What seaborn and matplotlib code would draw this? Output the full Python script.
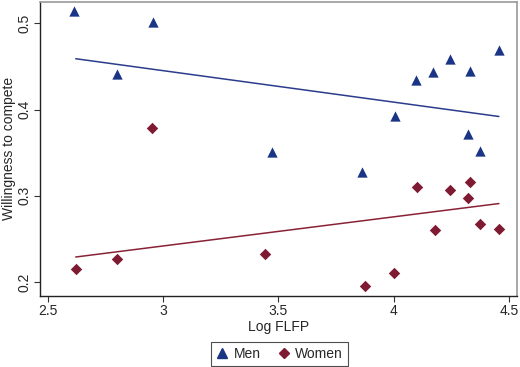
import numpy as np
import pandas as pd
import seaborn as sns
import matplotlib.pyplot as plt

# points
men_x = [2.614, 2.955, 2.797, 3.470, 3.864, 4.004, 4.097, 4.171, 4.246, 4.332, 4.322, 4.375, 4.457]
men_y = [0.514, 0.502, 0.441, 0.351, 0.328, 0.392, 0.434, 0.444, 0.459, 0.445, 0.372, 0.352, 0.469]
women_x = [2.951, 2.623, 2.797, 3.443, 3.875, 4.001, 4.103, 4.180, 4.246, 4.322, 4.332, 4.377, 4.458]
women_y = [0.379, 0.215, 0.227, 0.233, 0.195, 0.210, 0.310, 0.260, 0.307, 0.297, 0.316, 0.267, 0.261]

# fitted lines (end points)
fit_x = [2.62, 4.457]
men_fit = [0.459, 0.392]
women_fit = [0.229, 0.291]

navy = '#1a3585'
maroon = '#7e1a32'

sns.set_style('white')
plt.rcParams['font.family'] = ['Liberation Sans', 'DejaVu Sans']

men = pd.DataFrame({'x': men_x, 'y': men_y})
women = pd.DataFrame({'x': women_x, 'y': women_y})

fig = plt.figure(figsize=(5.2, 3.67), dpi=100)
ax = fig.add_axes([0.077, 0.194, 0.917, 0.801])

sns.scatterplot(data=men, x='x', y='y', marker='^', color=navy,
                s=55, linewidth=0, ax=ax)
sns.scatterplot(data=women, x='x', y='y', marker='D', color=maroon,
                s=34, linewidth=0, ax=ax)
sns.lineplot(x=fit_x, y=men_fit, color='#2c3c8c', lw=1.1, ax=ax)
sns.lineplot(x=fit_x, y=women_fit, color='#8a2236', lw=1.1, ax=ax)

ax.set_xlim(2.465, 4.535)
ax.set_ylim(0.184, 0.525)
ax.set_xticks([2.5, 3, 3.5, 4, 4.5])
ax.set_xticklabels(['2.5', '3', '3.5', '4', '4.5'])
ax.set_yticks([0.2, 0.3, 0.4, 0.5])
ax.set_yticklabels(['0.2', '0.3', '0.4', '0.5'], rotation=90, va='center')
ax.tick_params(axis='both', direction='out', length=4, width=0.8,
               color='#333333', labelsize=10, pad=2, bottom=True, left=True)
ax.set_xlabel('Log FLFP', fontsize=10, labelpad=1)
ax.set_ylabel('Willingness to compete', fontsize=10, labelpad=1)

for side in ['left', 'bottom']:
    ax.spines[side].set_color('#222222')
    ax.spines[side].set_linewidth(1.0)
for side in ['top', 'right']:
    ax.spines[side].set_color('#999999')
    ax.spines[side].set_linewidth(1.2)

# legend below the plot
h1 = plt.Line2D([], [], marker='^', color=navy, ls='', ms=7)
h2 = plt.Line2D([], [], marker='D', color=maroon, ls='', ms=5.5)
leg = fig.legend([h1, h2], ['Men', 'Women'], loc='center', ncol=2,
                 bbox_to_anchor=(0.537, 0.035), fontsize=10, frameon=True,
                 fancybox=False, handletextpad=0.3, columnspacing=1.2,
                 handlelength=1.0, borderpad=0.35, borderaxespad=0)
leg.get_frame().set_edgecolor('#222222')
leg.get_frame().set_linewidth(0.8)

fig.savefig('out.png', dpi=100)
